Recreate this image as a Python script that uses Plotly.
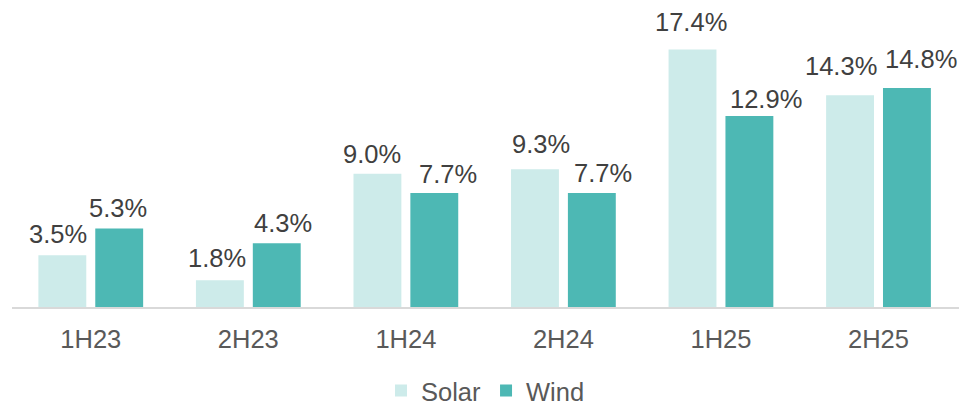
import plotly.graph_objects as go

categories = ["1H23", "2H23", "1H24", "2H24", "1H25", "2H25"]
solar = [3.5, 1.8, 9.0, 9.3, 17.4, 14.3]
wind = [5.3, 4.3, 7.7, 7.7, 12.9, 14.8]

# label nudges (pixels), as placed in the reference
solar_dx = [-4, -3, -5, 6, -1, -9]
solar_dy = [5, 6, 4, 9, 11, 13]
wind_dx = [-1, 6, 14, 11, 17, 14]
wind_dy = [5, 4, 3, 4, 1, 13]

solar_color = "#CDEBEA"
wind_color = "#4DB8B4"
font_family = "Liberation Sans, Arial, sans-serif"
FS = 25.5

# page body has an 8px margin, so the figure is sized to fit inside the window
W, H = 953, 394

fig = go.Figure()
fig.add_trace(go.Bar(name="Solar", x=categories, y=solar, marker_color=solar_color,
                     marker_line_width=0))
fig.add_trace(go.Bar(name="Wind", x=categories, y=wind, marker_color=wind_color,
                     marker_line_width=0))

annotations = []
for series, shift, dxs, dys in ((solar, -28.5, solar_dx, solar_dy),
                                (wind, 28.5, wind_dx, wind_dy)):
    for c, v, dx, dy in zip(categories, series, dxs, dys):
        annotations.append(dict(
            x=c, y=v, xref="x", yref="y", text=f"{v:.1f}%", showarrow=False,
            xshift=shift + dx, yshift=dy, yanchor="bottom", xanchor="center",
            font=dict(family=font_family, size=FS, color="#404040")))

fig.update_layout(
    width=W, height=H,
    margin=dict(l=4, r=2, t=3, b=95),
    paper_bgcolor="white", plot_bgcolor="white",
    barmode="group", bargap=0.278, bargroupgap=0.158,
    font=dict(family=font_family, size=FS, color="#595959"),
    showlegend=True,
    legend=dict(orientation="h", x=0.5, xanchor="center",
                yref="container", y=(H - 383) / H, yanchor="middle",
                font=dict(family=font_family, size=FS, color="#595959"),
                itemwidth=30, traceorder="normal"),
    annotations=annotations,
    xaxis=dict(showgrid=False, showline=True, linecolor="#D9D9D9", linewidth=2,
               ticks="outside", ticklen=8, tickcolor="rgba(0,0,0,0)", automargin=False,
               tickfont=dict(family=font_family, size=FS, color="#595959")),
    yaxis=dict(range=[0, 20], showgrid=False, showticklabels=False, zeroline=False,
               showline=False, ticks="", automargin=False),
)

fig.write_html("out.html")
